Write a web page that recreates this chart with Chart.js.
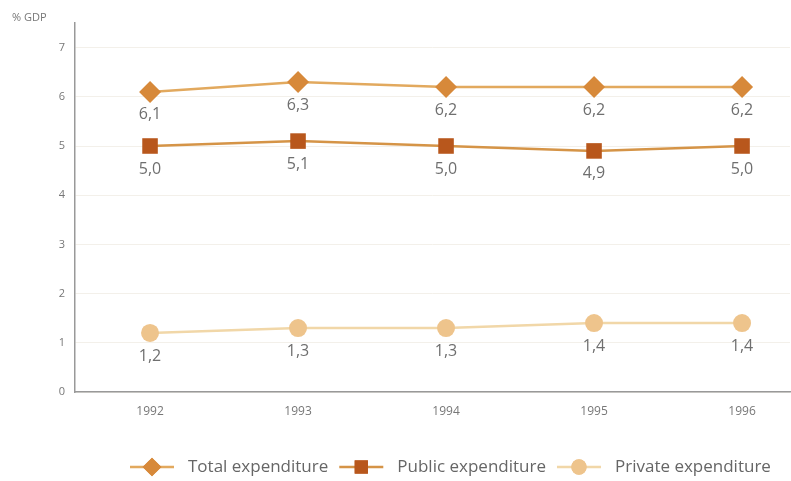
<!DOCTYPE html>
<html>
<head>
<meta charset="utf-8">
<script src="https://cdn.jsdelivr.net/npm/chart.js@4/dist/chart.umd.min.js"></script>
<style>
  html, body { margin: 0; padding: 0; background: #fff; }
  #wrap { width: 791px; height: 481px; position: relative; }
</style>
</head>
<body>
<div id="wrap"><canvas id="chart" width="791" height="481"></canvas></div>
<script>
// ====================
// Data
// ====================
const years = [1992, 1993, 1994, 1995, 1996];
const totalExp = [6.1, 6.3, 6.2, 6.2, 6.2];
const publicExp = [5.0, 5.1, 5.0, 4.9, 5.0];
const privateExp = [1.2, 1.3, 1.3, 1.4, 1.4];
const yTicks = [0, 1, 2, 3, 4, 5, 6, 7];

const seriesNames = ["Total expenditure", "Public expenditure", "Private expenditure"];
const lineColors = ["#e2a95e", "#d59447", "#f1d7a8"];
const markColors = ["#d7893a", "#b8571c", "#eec48c"];
const markStyles = ["rectRot", "rect", "circle"];
const markRadius = [11, 11, 9];

const grey = "#777";
const fmt = v => v.toFixed(1).replace(".", ",");

// ====================
// Plugins
// ====================
// value under each point, "6,1" style
const valueLabels = {
    id: "valueLabels",
    afterDatasetsDraw(chart) {
        const ctx = chart.ctx;
        ctx.save();
        ctx.font = "16px 'Open Sans', sans-serif";
        ctx.fillStyle = "#6f6f6f";
        ctx.textAlign = "center";
        ctx.textBaseline = "middle";
        chart.data.datasets.forEach((ds, i) => {
            chart.getDatasetMeta(i).data.forEach((pt, j) => {
                ctx.fillText(fmt(ds.data[j].y), pt.x, pt.y + 23);
            });
        });
        ctx.restore();
    }
};

// "% GDP" caption + legend along the bottom
const extras = {
    id: "extras",
    afterDraw(chart) {
        const ctx = chart.ctx;
        ctx.save();
        ctx.font = "11px 'Open Sans', sans-serif";
        ctx.fillStyle = grey;
        ctx.textBaseline = "middle";
        ctx.fillText("% GDP", 12, 18);

        ctx.font = "17px 'Open Sans', sans-serif";
        let x = 130;
        const y = 467;
        seriesNames.forEach((name, i) => {
            ctx.strokeStyle = lineColors[i];
            ctx.lineWidth = 2.5;
            ctx.beginPath();
            ctx.moveTo(x, y);
            ctx.lineTo(x + 44, y);
            ctx.stroke();
            ctx.fillStyle = markColors[i];
            Chart.helpers.drawPoint(ctx, {
                pointStyle: markStyles[i],
                radius: markRadius[i] * 0.85,
                borderWidth: 0
            }, x + 22, y);
            ctx.fill();
            ctx.fillStyle = "#666";
            ctx.fillText(name, x + 58, y);
            x += 58 + ctx.measureText(name).width + 11;
        });
        ctx.restore();
    }
};

// ====================
// Chart
// ====================
const datasets = [totalExp, publicExp, privateExp].map((vals, i) => ({
    label: seriesNames[i],
    data: years.map((yr, j) => ({ x: yr, y: vals[j] })),
    borderColor: lineColors[i],
    borderWidth: 2.5,
    backgroundColor: markColors[i],
    pointBackgroundColor: markColors[i],
    pointBorderWidth: 0,
    pointStyle: markStyles[i],
    pointRadius: markRadius[i],
    pointHoverRadius: markRadius[i],
    tension: 0
}));

new Chart(document.getElementById("chart"), {
    type: "line",
    data: { datasets },
    plugins: [valueLabels, extras],
    options: {
        responsive: false,
        animation: false,
        layout: { autoPadding: false, padding: { top: 23, right: 1, left: 0, bottom: 0 } },
        plugins: { legend: { display: false }, tooltip: { enabled: false } },
        scales: {
            x: {
                type: "linear",
                min: 1991.493,
                max: 1996.324,
                afterBuildTicks: s => { s.ticks = years.map(v => ({ value: v })); },
                afterFit: s => { s.height = 89; },
                grid: { display: false },
                border: { color: "#999", width: 1.5 },
                ticks: {
                    color: grey,
                    font: { size: 12, family: "'Open Sans', sans-serif" },
                    padding: 4,
                    callback: v => String(v)
                }
            },
            y: {
                min: 0,
                max: 7.5,
                afterBuildTicks: s => { s.ticks = yTicks.map(v => ({ value: v })); },
                afterFit: s => { s.width = 75; },
                grid: { color: "#f3f0ea", drawTicks: false },
                border: { color: "#999", width: 1.5 },
                ticks: {
                    color: grey,
                    font: { size: 11, family: "'Open Sans', sans-serif" },
                    padding: 10,
                    callback: v => String(v)
                }
            }
        }
    }
});
</script>
</body>
</html>
